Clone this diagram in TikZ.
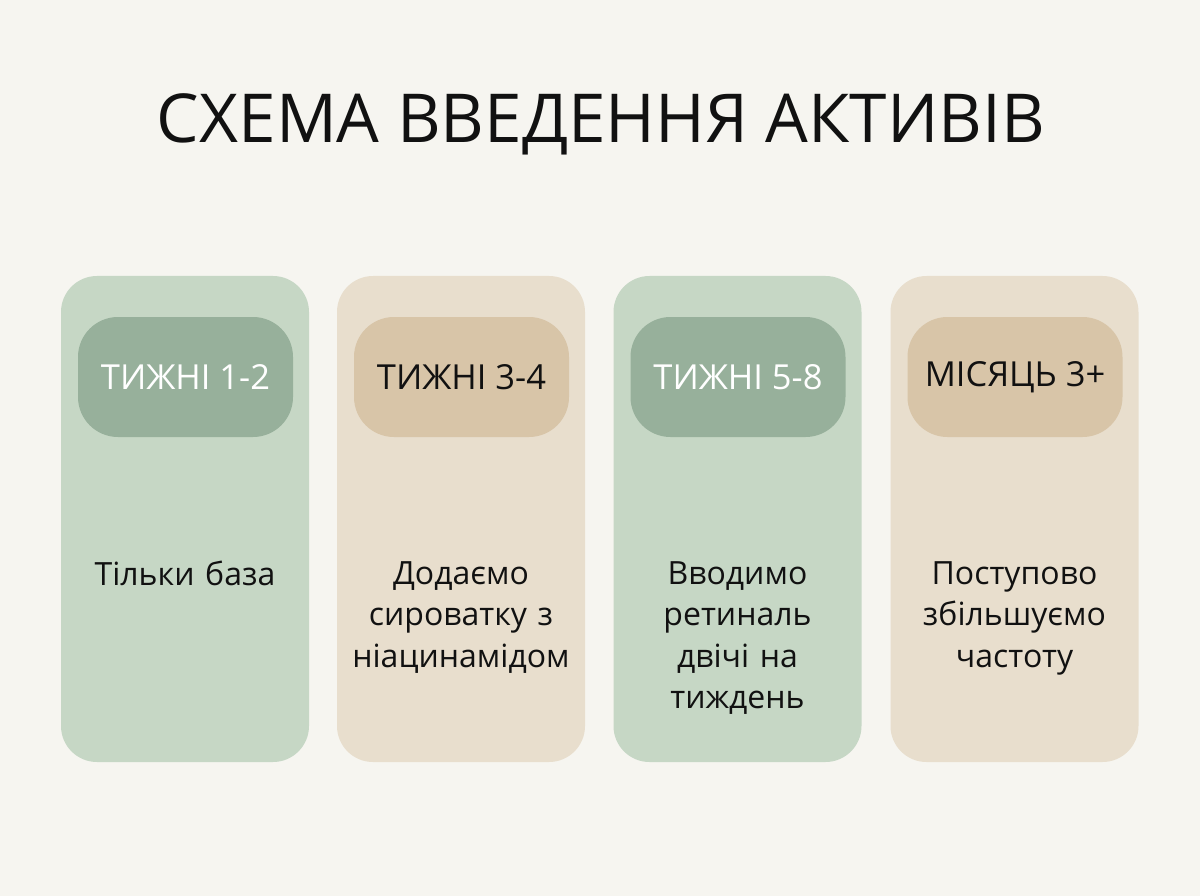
\documentclass[tikz,border=0pt]{standalone}
\usepackage{fontspec}
\setmainfont{Open Sans}
\definecolor{bgc}{HTML}{F6F5F0}
\definecolor{cardg}{HTML}{C6D7C5}
\definecolor{cardb}{HTML}{E8DECD}
\definecolor{pillg}{HTML}{97B09B}
\definecolor{pillb}{HTML}{D8C5A8}
\definecolor{txt}{HTML}{111111}
\begin{document}
\begin{tikzpicture}[x=1pt,y=-1pt,
  card/.style={draw=none,rounded corners=36pt,minimum width=248pt,minimum height=486pt,inner sep=0pt},
  pill/.style={draw=none,rounded corners=40pt,minimum width=215pt,minimum height=120pt,inner sep=0pt,font=\fontsize{34.5}{40}\selectfont},
  body/.style={anchor=north,align=center,text width=246pt,font=\fontsize{32}{41.5}\selectfont,text=txt,inner sep=0pt}]
\fill[bgc] (0,0) rectangle (1200,896);
\useasboundingbox (0,0) rectangle (1200,896);
\node[text=txt,font=\fontsize{67.5}{75}\selectfont] (title) at (601,124) {СХЕМА ВВЕДЕННЯ АКТИВІВ};
\node[card,fill=cardg] (c1) at (185,519) {};
\node[card,fill=cardb] (c2) at (461,519) {};
\node[card,fill=cardg] (c3) at (737.5,519) {};
\node[card,fill=cardb] (c4) at (1014.5,519) {};
\node[pill,fill=pillg,text=white] (p1) at (185.5,377) {ТИЖНІ 1-2};
\node[pill,fill=pillb,text=txt] (p2) at (461.5,377) {ТИЖНІ 3-4};
\node[pill,fill=pillg,text=white] (p3) at (738,377) {ТИЖНІ 5-8};
\node[pill,fill=pillb,text=txt] (p4) at (1015,377) {МІСЯЦЬ 3+};
\node[body] (t1) at (185,561) {Тільки база};
\node[body] (t2) at (461,561) {Додаємо\\сироватку з\\ніацинамідом};
\node[body] (t3) at (737.5,561) {Вводимо\\ретиналь\\двічі на\\тиждень};
\node[body] (t4) at (1014.5,561) {Поступово\\збільшуємо\\частоту};
\end{tikzpicture}
\end{document}
